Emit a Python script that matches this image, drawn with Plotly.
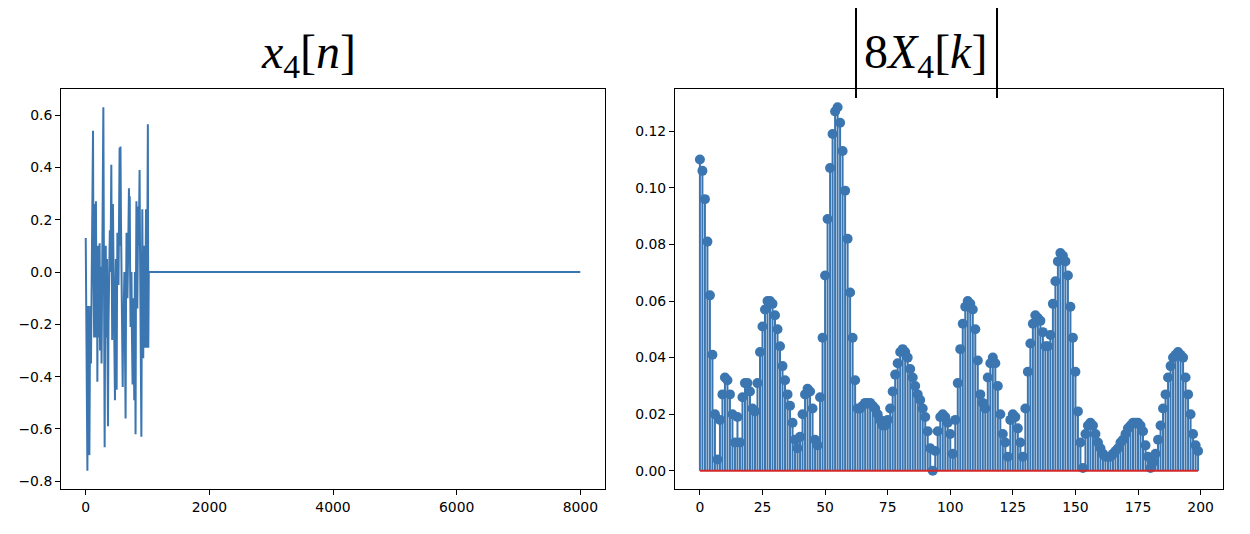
import plotly.graph_objects as go

# ---------------- data ----------------
# left panel: x4[n], signal samples (turning points), then zero padding
sig_n = [0, 6, 12, 20, 27, 33, 38, 44, 48, 53, 59, 65, 72, 78, 85, 92, 100, 108, 118, 124,
         130, 136, 142, 148, 155, 160, 165, 172, 178, 183, 188, 194, 200, 206, 212, 218,
         225, 232, 238, 244, 250, 256, 262, 272, 285, 295, 306, 312, 318, 324, 330, 338,
         345, 352, 360, 368, 375, 382, 390, 400, 414, 420, 428, 434, 440, 448, 455, 464,
         473, 480, 488, 494, 500, 506, 512, 520, 530, 540, 548, 555, 562, 570, 580, 590,
         598, 605, 612, 618, 625, 635, 645, 652, 660, 668, 675, 688, 699, 705, 712, 718,
         725, 732, 740, 748, 758, 764, 770, 778, 785, 790, 795, 800, 806, 812, 820, 828,
         835, 842, 848, 858, 871, 878, 885, 892, 900, 908, 915, 922, 930, 938, 945, 952,
         960, 968, 975, 982, 990, 998, 1005, 1012, 1020]
sig_v = [0.13, -0.10, -0.20, -0.35, -0.76, -0.20, -0.13, -0.35, -0.20, -0.45, -0.70, -0.30,
         -0.13, -0.25, -0.35, -0.15, 0.00, 0.20, 0.54, 0.10, -0.05, -0.25, 0.26, 0.00,
         -0.25, 0.05, 0.27, -0.05, -0.15, 0.10, -0.42, -0.10, 0.10, -0.25, -0.10, 0.05,
         0.11, -0.30, -0.21, 0.02, 0.00, -0.35, -0.20, 0.30, 0.63, 0.00, -0.67, -0.30,
         -0.10, 0.10, -0.25, -0.05, 0.05, -0.30, -0.59, -0.20, -0.10, 0.05, 0.16, 0.00,
         0.41, 0.10, -0.26, 0.05, 0.26, 0.05, -0.10, -0.30, -0.49, -0.10, 0.05, -0.20,
         -0.45, -0.10, 0.15, 0.05, -0.05, 0.20, 0.475, 0.10, 0.48, 0.20, -0.05, -0.25,
         -0.44, -0.20, -0.29, -0.10, 0.00, -0.30, -0.56, -0.10, 0.15, 0.00, -0.10, 0.10,
         0.32, 0.10, 0.29, 0.00, -0.21, -0.05, 0.00, -0.25, -0.43, -0.20, -0.10, -0.30,
         -0.49, -0.20, 0.00, -0.30, -0.62, -0.10, 0.27, 0.05, -0.14, 0.05, 0.25, 0.10,
         0.39, 0.10, -0.14, -0.40, -0.63, -0.10, 0.24, -0.05, -0.33, -0.10, 0.10, -0.05,
         -0.29, 0.00, 0.24, 0.05, -0.29, 0.20, 0.565, -0.29, 0.00]
pad_n = [1020, 7999]
pad_v = [0.0, 0.0]

left_xticks = [0, 2000, 4000, 6000, 8000]
left_yticks = [-0.8, -0.6, -0.4, -0.2, 0.0, 0.2, 0.4, 0.6]

# right panel: |8 X4[k]|, k = 0..199
k_vals = list(range(200))
mag = [
    0.110, 0.106, 0.096, 0.081, 0.062, 0.041, 0.020, 0.004, 0.018, 0.027,
    0.033, 0.032, 0.027, 0.020, 0.010, 0.019, 0.010, 0.026, 0.031, 0.031,
    0.028, 0.022, 0.021, 0.031, 0.042, 0.051, 0.057, 0.060, 0.060, 0.059,
    0.055, 0.050, 0.044, 0.037, 0.032, 0.027, 0.023, 0.017, 0.011, 0.008,
    0.012, 0.020, 0.027, 0.029, 0.028, 0.022, 0.011, 0.009, 0.026, 0.047,
    0.069, 0.089, 0.107, 0.119, 0.127, 0.1285, 0.123, 0.113, 0.099, 0.082,
    0.063, 0.047, 0.032, 0.022, 0.022, 0.023, 0.024, 0.024, 0.024, 0.023,
    0.022, 0.020, 0.018, 0.016, 0.016, 0.018, 0.022, 0.028, 0.034, 0.038,
    0.042, 0.043, 0.042, 0.040, 0.036, 0.033, 0.030, 0.027, 0.025, 0.022,
    0.019, 0.014, 0.008, 0.000, 0.007, 0.014, 0.019, 0.020, 0.019, 0.017,
    0.013, 0.006, 0.018, 0.031, 0.043, 0.052, 0.058, 0.060, 0.059, 0.057,
    0.050, 0.039, 0.027, 0.024, 0.022, 0.033, 0.038, 0.040, 0.038, 0.030,
    0.020, 0.013, 0.010, 0.005, 0.018, 0.020, 0.019, 0.015, 0.010, 0.005,
    0.022, 0.035, 0.045, 0.052, 0.055, 0.054, 0.053, 0.049, 0.044, 0.044,
    0.048, 0.059, 0.067, 0.074, 0.077, 0.076, 0.074, 0.069, 0.058, 0.047,
    0.035, 0.021, 0.010, 0.001, 0.013, 0.016, 0.017, 0.016, 0.013, 0.010,
    0.008, 0.006, 0.005, 0.005, 0.005, 0.006, 0.007, 0.008, 0.010, 0.011,
    0.013, 0.015, 0.016, 0.017, 0.017, 0.017, 0.016, 0.014, 0.009, 0.005,
    0.001, 0.003, 0.006, 0.011, 0.016, 0.022, 0.027, 0.033, 0.037, 0.040,
    0.041, 0.042, 0.041, 0.040, 0.033, 0.027, 0.020, 0.013, 0.009, 0.007,
]
right_xticks = [0, 25, 50, 75, 100, 125, 150, 175, 200]
right_yticks = [0.00, 0.02, 0.04, 0.06, 0.08, 0.10, 0.12]

left_title = "<i>x</i><sub>4</sub>[<i>n</i>]"
right_title = "8<i>X</i><sub>4</sub>[<i>k</i>]"

# ---------------- styling ----------------
BLUE = "#3b76b1"
RED = "#d62728"
W, H = 1250, 534
OFF = 8  # page body margin of the browser
TICKFONT = dict(family="DejaVu Sans", size=13.9, color="#000000")
TITLEFONT = dict(family="Liberation Serif", size=48, color="#000000")


def px(xp):
    return (xp - OFF) / W


def py(yp):
    return 1 - (yp - OFF) / H


fig = go.Figure()

# left: line
fig.add_trace(go.Scatter(
    x=sig_n + pad_n, y=sig_v + pad_v, mode="lines",
    line=dict(color=BLUE, width=2), xaxis="x", yaxis="y", showlegend=False,
    hoverinfo="skip"))

# right: stems
stem_x, stem_y = [], []
for k, v in zip(k_vals, mag):
    stem_x += [k, k, None]
    stem_y += [0, v, None]
fig.add_trace(go.Scatter(
    x=stem_x, y=stem_y, mode="lines", line=dict(color=BLUE, width=2),
    xaxis="x2", yaxis="y2", showlegend=False, hoverinfo="skip"))
fig.add_trace(go.Scatter(
    x=k_vals, y=mag, mode="markers",
    marker=dict(color=BLUE, size=10, line=dict(width=0)),
    xaxis="x2", yaxis="y2", showlegend=False))
fig.add_trace(go.Scatter(
    x=[k_vals[0], k_vals[-1]], y=[0, 0], mode="lines",
    line=dict(color=RED, width=2), xaxis="x2", yaxis="y2", showlegend=False,
    hoverinfo="skip"))


# ranges with matplotlib-like 5% margins
def padded(lo, hi, frac=0.05):
    d = (hi - lo) * frac
    return [lo - d, hi + d]


all_left_y = sig_v + pad_v
lx = padded(min(sig_n + pad_n), max(sig_n + pad_n))
ly = padded(min(all_left_y), max(all_left_y))
rx = padded(min(k_vals), max(k_vals))
ry = padded(min(mag + [0]), max(mag))

ydom = [py(489), py(89)]
axis_common = dict(showline=True, mirror=True, linecolor="#000000", linewidth=1,
                   ticks="outside", ticklen=5, tickwidth=1, tickcolor="#000000",
                   showgrid=False, zeroline=False, tickfont=TICKFONT)

fig.update_layout(
    width=W, height=H,
    margin=dict(l=0, r=0, t=0, b=0),
    paper_bgcolor="white", plot_bgcolor="white",
    xaxis=dict(domain=[px(61), px(605)], range=lx, tickvals=left_xticks,
               ticktext=[str(t) for t in left_xticks], anchor="y", **axis_common),
    yaxis=dict(domain=ydom, range=ly, tickvals=left_yticks,
               ticktext=[f"{t:.1f}".replace("-", "\u2212") for t in left_yticks],
               anchor="x", **axis_common),
    xaxis2=dict(domain=[px(675), px(1223)], range=rx, tickvals=right_xticks,
                ticktext=[str(t) for t in right_xticks], anchor="y2", **axis_common),
    yaxis2=dict(domain=ydom, range=ry, tickvals=right_yticks,
                ticktext=[f"{t:.2f}" for t in right_yticks], anchor="x2", **axis_common),
)

fig.add_annotation(text=left_title, x=px(308), y=py(55), xref="paper", yref="paper",
                   showarrow=False, font=TITLEFONT, xanchor="center", yanchor="middle")
fig.add_annotation(text=right_title, x=px(925), y=py(55), xref="paper", yref="paper",
                   showarrow=False, font=TITLEFONT, xanchor="center", yanchor="middle")
# tall absolute-value delimiters around the right title
for xb in (856, 997):
    fig.add_shape(type="line", xref="paper", yref="paper",
                  x0=px(xb), x1=px(xb), y0=py(8), y1=py(98),
                  line=dict(color="#000000", width=2))

fig.write_html("out.html")
